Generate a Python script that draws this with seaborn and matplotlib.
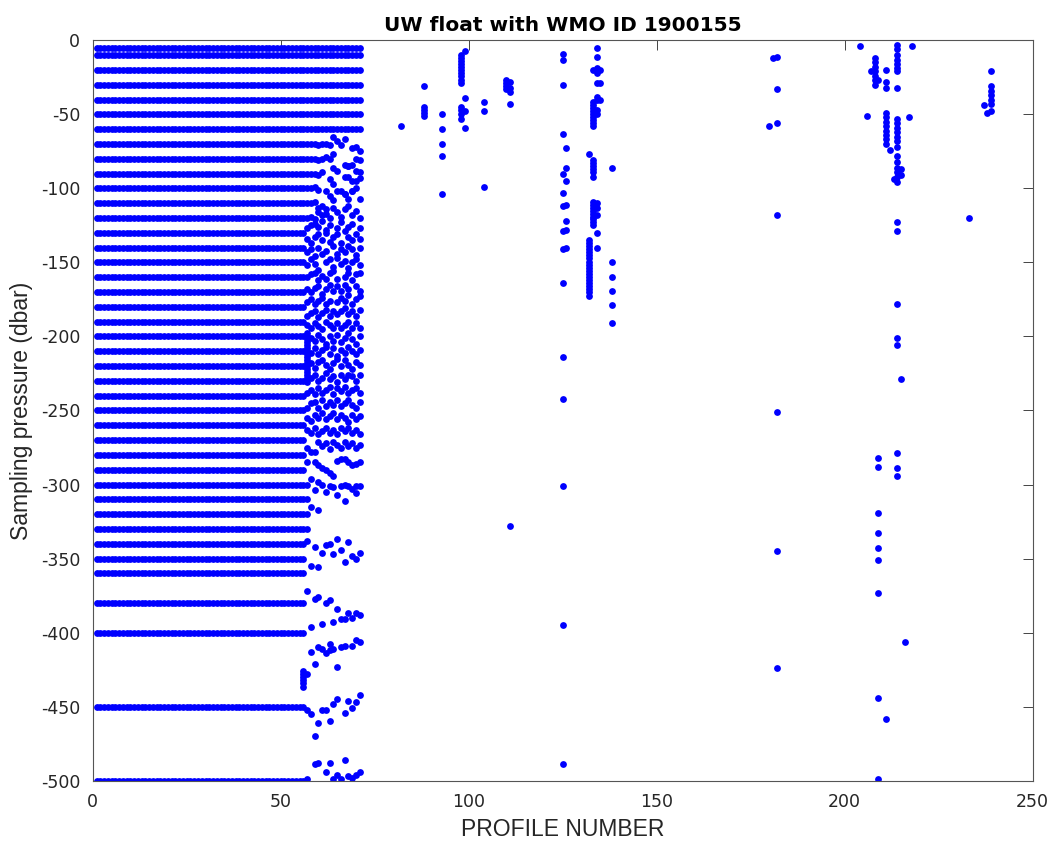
import numpy as np
import pandas as pd
import matplotlib
matplotlib.use("Agg")
import matplotlib.pyplot as plt
import seaborn as sns

nan = np.nan

# standard sampling levels (dbar) of the regular profiles
levels = [5, 10, 20, 30, 40, 50, 60, 70, 80, 90, 100, 110, 120, 130, 140, 150,
          160, 170, 180, 190, 200, 210, 220, 230, 240, 250, 260, 270, 280, 290,
          300, 310, 320, 330, 340, 350, 360, 380, 400, 450, 500]
upper_levels = [5, 10, 20, 30, 40, 50, 60]

regular_profiles = np.arange(1, 57)     # full-depth profiles
upper_profiles = np.arange(57, 72)      # profiles kept only on upper levels
cloud_profiles = list(range(57, 72))    # irregular sampling, one value per profile per row

# irregular rows, profiles 57..71
cloud_rows = [
    [70, 70, 70, 71, 70, 70, 71, 65, 68, 71, 67, nan, 73, 72, 75],
    [80, 80, 80, 81, 80, 79, 80, 77, nan, nan, 84, 85, 84, 80, 81],
    [90, 90, 90, 91, 89, nan, nan, 86, 88, nan, 92, 85, 95, 88, 89],
    [100, 100, 99, 101, nan, 102, 94, 97, nan, 102, 104, 92, 102, 95, 93],
    [110, 110, 109, 113, 112, 117, 105, 108, 102, nan, 104, 107, 102, 100, 107],
    [120, 119, 121, 116, 118, 114, 120, 113, 116, 119, 114, 112, 118, 115, 120],
    [127, 125, 124, 126, 122, 128, 125, nan, 127, 123, 129, 126, 124, nan, 127],
    [134, 137, 133, 131, 135, 130, 136, 133, 131, 137, nan, 133, 135, 131, 134],
    [143, 141, 146, 140, 144, 142, nan, 139, 144, 141, 143, 139, 141, 145, 140],
    [152, 148, 151, 155, nan, 150, 148, 153, 147, 151, 149, 154, 150, 148, 152],
    [160, 158, 157, 162, 159, 161, 157, 156, 161, nan, 160, 157, 162, 158, 157],
    [168, 170, 167, 166, 171, 168, 165, 169, 166, 169, 165, 168, nan, 166, 169],
    [177, 175, 178, 176, 174, 178, 176, nan, 177, 174, 176, 172, 178, 175, 173],
    [186, 184, 183, 187, 184, 182, 186, 183, 185, 183, 181, 185, 183, 186, 182],
    [192, 194, 191, 193, 195, 190, 192, 194, 191, 194, 192, 190, 194, 191, 194],
    [nan, 201, 203, 199, 202, 205, 200, 203, 199, 204, 201, 198, 202, 205, 200],
    [nan, 211, 208, 212, 209, 207, 212, 208, 213, 209, 211, 207, 210, 212, 209],
    [nan, 218, 221, 217, 216, 219, 222, 218, 215, 220, 216, 219, 222, 217, 219],
    [231, 228, 226, 230, 228, 225, 229, 227, 231, 226, 229, 226, 227, 230, 226],
    [238, 236, 239, 235, 238, 236, 234, 239, 235, 237, 234, 238, 236, 235, 238],
    [248, 245, 244, 248, 243, 247, 244, 246, 243, 247, 245, 243, 246, 248, 244],
    [255, 257, 253, 255, 252, 256, 254, 252, 256, 253, 255, 258, 253, 256, 254],
    [263, 265, 262, 266, 264, 262, 265, 263, 266, 262, 264, 262, 265, 263, 266],
    [275, 278, 278, 271, 274, 272, 276, 271, 273, 275, 271, 274, 272, 275, 273],
    [285, nan, 285, 287, 289, 290, 292, 294, 284, 283, 283, 285, 287, 286, 285],
    [300, 296, nan, 298, 300, nan, 301, 302, nan, 301, 300, 301, 303, 301, 301],
    [310, nan, 304, nan, nan, 305, nan, nan, 307, nan, 311, nan, nan, 306, nan],
    [320, 315, nan, 317, nan, nan, nan, nan, nan, nan, nan, nan, nan, nan, nan],
    [330, nan, nan, nan, nan, nan, nan, nan, nan, nan, nan, nan, nan, nan, nan],
    [338, 355, 342, 356, 346, 341, 340, 347, 337, 344, 352, 339, 348, 350, 346],
    [372, nan, 377, 376, nan, 380, 378, nan, 384, nan, nan, 387, 390, 387, 388],
    [nan, 396, nan, nan, 394, nan, nan, 393, nan, 391, 391, nan, nan, nan, nan],
    [nan, 413, nan, 410, 411, 414, 412, 411, nan, 410, 409, nan, 409, 405, 406],
    [428, nan, 421, nan, nan, nan, 408, nan, 423, nan, nan, nan, nan, nan, nan],
    [452, 455, 470, 461, 452, 452, 460, 448, 445, nan, 454, 446, 451, 447, 442],
    [499, nan, 489, 488, nan, 494, 488, 499, 496, 499, 486, 497, 498, 496, 494],
]

# profiles with fine vertical sampling over a short span
column_56 = [426, 428, 430, 432, 434, 437]
column_57 = [198, 200, 202, 204, 206, 208, 210, 212, 214, 216, 218, 220, 222, 224, 226, 228]

# later profiles: only a few good samples each
sparse_profiles = {
    82: [58],
    88: [31, 45, 47, 49, 51],
    93: [50, 60, 70, 78, 104],
    98: [10, 12, 14, 16, 18, 20, 22, 24, 27, 29, 45, 47, 50, 53],
    99: [7, 39, 48, 59],
    104: [42, 48, 99],
    110: [27, 29, 31, 33],
    111: [28, 32, 35, 43, 328],
    125: [9, 13, 30, 63, 90, 103, 112, 129, 141, 164, 214, 242, 301, 395, 489],
    126: [73, 86, 95, 111, 122, 128, 140],
    132: [77, 135, 137, 139, 141, 143, 145, 147, 150, 152, 154, 156, 158, 160,
          162, 164, 166, 168, 170, 173],
    133: [20, 42, 44, 46, 48, 50, 52, 54, 56, 58, 81, 83, 85, 87, 89, 92, 109,
          111, 113, 115, 117, 119, 121, 123, 125],
    134: [5, 11, 19, 22, 29, 38, 40, 47, 50, 110, 113, 118, 130, 140],
    135: [20, 29, 40],
    138: [86, 150, 160, 169, 179, 191],
    180: [58],
    181: [12],
    182: [11, 33, 56, 118, 251, 345, 424],
    204: [4],
    206: [51],
    207: [21],
    208: [12, 15, 18, 21, 24, 27, 30],
    209: [27, 282, 288, 319, 333, 343, 351, 373, 444, 499],
    211: [20, 28, 32, 49, 52, 55, 58, 61, 64, 67, 70, 458],
    212: [74],
    213: [94],
    214: [3, 6, 10, 13, 16, 19, 21, 32, 53, 56, 59, 62, 65, 68, 72, 78, 82, 86,
          89, 92, 96, 123, 129, 178, 201, 206, 279, 289, 294],
    215: [87, 91, 229],
    216: [406],
    217: [52],
    218: [4],
    233: [120],
    237: [44],
    238: [49],
    239: [21, 31, 34, 37, 40, 43, 48],
}

# collect all samples
xs, ps = [], []
for prof in regular_profiles:
    for p in levels:
        xs.append(prof); ps.append(p)
for prof in upper_profiles:
    for p in upper_levels:
        xs.append(prof); ps.append(p)
for row in cloud_rows:
    for prof, p in zip(cloud_profiles, row):
        if not np.isnan(p):
            xs.append(prof); ps.append(p)
for p in column_56:
    xs.append(56); ps.append(p)
for p in column_57:
    xs.append(57); ps.append(p)
for prof, vals in sparse_profiles.items():
    for p in vals:
        xs.append(prof); ps.append(p)

df = pd.DataFrame({"profile": xs, "pressure": -np.array(ps, dtype=float)})

sns.set_style("white")
plt.rcParams["font.family"] = ["DejaVu Sans"]
plt.rcParams["axes.unicode_minus"] = False

fig = plt.figure(figsize=(10.54, 8.41), dpi=100)
ax = fig.add_axes([0.088, 0.0717, 0.8917, 0.8804])

sns.scatterplot(data=df, x="profile", y="pressure", color="#0000ff",
                s=24, linewidth=0, alpha=1, ax=ax, legend=False)

ax.set_xlim(0, 250)
ax.set_ylim(-500, 0)
ax.set_xticks([0, 50, 100, 150, 200, 250])
ax.set_yticks(np.arange(-500, 1, 50))

axcol = "#262626"
ax.tick_params(direction="in", length=7, width=0.6, color=axcol,
               top=True, right=True, labelsize=12.5, labelcolor=axcol, pad=9)
for sp in ax.spines.values():
    sp.set_color("#555555")
    sp.set_linewidth(0.8)

ax.set_title("UW float with WMO ID 1900155", fontsize=14.5, fontweight="bold",
             color="black", pad=7)
ax.set_xlabel("PROFILE NUMBER", fontsize=16.5, family="Liberation Sans",
              color=axcol, labelpad=5)
ax.set_ylabel("Sampling pressure (dbar)", fontsize=16.5, family="Liberation Sans",
              color=axcol, labelpad=6)

fig.savefig("out.png", dpi=100)
